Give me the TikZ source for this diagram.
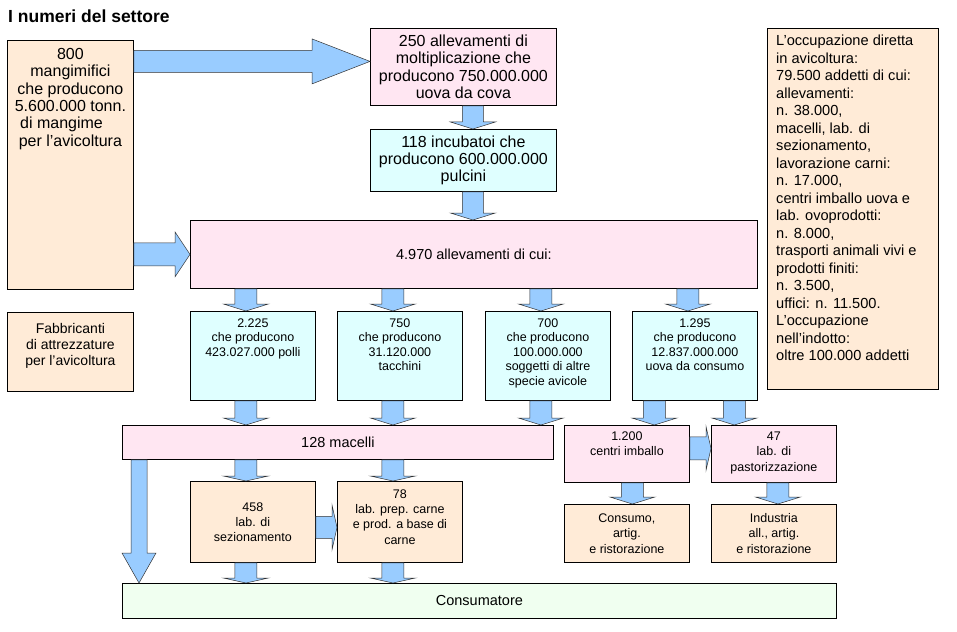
\documentclass[tikz,border=0pt]{standalone}
\usepackage{fontspec}
\setmainfont{Liberation Sans}
\usetikzlibrary{calc}
\definecolor{peachc}{HTML}{FFEBD7}
\definecolor{pinkc}{HTML}{FFE6F2}
\definecolor{cyanc}{HTML}{DFFFFF}
\definecolor{greenc}{HTML}{F0FFF0}
\definecolor{arrowc}{HTML}{99CCFF}
\newcommand\fsz[2]{\fontsize{#1pt}{#2pt}\selectfont}
% vertical block arrow from #1 down to #2
\newcommand\vblk[5]{\draw[blk] let \p1=(#1), \p2=(#2) in
 (\x1-#3,\y1) -- (\x1+#3,\y1) -- (\x1+#3,\y2+#5) -- (\x1+#4,\y2+#5) -- (\x1,\y2)
 -- (\x1-#4,\y2+#5) -- (\x1-#3,\y2+#5) -- cycle;}
% horizontal block arrow from #1 right to #2
\newcommand\hblk[5]{\draw[blk] let \p1=(#1), \p2=(#2) in
 (\x1,\y1+#3) -- (\x2-#5,\y1+#3) -- (\x2-#5,\y1+#4) -- (\x2,\y1) -- (\x2-#5,\y1-#4)
 -- (\x2-#5,\y1-#3) -- (\x1,\y1-#3) -- cycle;}
\begin{document}
\begin{tikzpicture}[x=1pt,y=-1pt,
  box/.style={draw=black, line width=0.8pt, inner sep=0pt, anchor=north west, align=center},
  sz/.style 2 args={minimum width=#1pt, minimum height=#2pt},
  blk/.style={fill=arrowc, draw=black!80, line width=0.5pt, line join=miter},
  big/.style={font=\fsz{16}{17.4}},
  mid/.style={font=\fsz{14.5}{17}},
  sml/.style={font=\fsz{12.5}{14.5}},
  smm/.style={font=\fsz{12.5}{15.5}},
  toplbl/.style={anchor=north, inner sep=0pt, align=center, yshift=-#1pt}]
\useasboundingbox (0,0) rectangle (957,631);
\fill[white] (0,0) rectangle (957,631);

\node[anchor=base west, inner sep=0pt, font=\bfseries\fsz{17.5}{20}] (title) at (8,22.5) {I numeri del settore};

% left column
\node[box, fill=peachc, sz={126}{249},
  label={[toplbl=8, big]north:{800\\mangimifici\\che producono\\5.600.000 tonn.\\di mangime\hphantom{00}\\per l'avicoltura}}] (mang) at (7,40) {};
\node[box, fill=peachc, sz={126}{79},
  label={[toplbl=11, font=\fsz{14}{16}]north:{Fabbricanti\\di attrezzature\\per l'avicoltura}}] (fabb) at (7,312) {};

% top chain
\node[box, fill=pinkc, sz={186}{77}, big] (p250) at (370,28) {250 allevamenti di\\moltiplicazione che\\producono 750.000.000\\uova da cova};
\node[box, fill=cyanc, sz={186}{62}, big] (i118) at (370,129) {118 incubatoi che\\producono 600.000.000\\pulcini};
\node[box, fill=pinkc, sz={567}{68}, mid] (all) at (190,220) {4.970 allevamenti di cui:};

% row of four
\node[box, fill=cyanc, sz={125}{89},
  label={[toplbl=7.5, sml]north:{2.225\\che producono\\423.027.000 polli}}] (r1) at (190,311) {};
\node[box, fill=cyanc, sz={125}{89},
  label={[toplbl=7.5, sml]north:{750\\che producono\\31.120.000\\tacchini}}] (r2) at (337,311) {};
\node[box, fill=cyanc, sz={125}{89},
  label={[toplbl=7.5, sml]north:{700\\che producono\\100.000.000\\soggetti di altre\\specie avicole}}] (r3) at (485,311) {};
\node[box, fill=cyanc, sz={125}{89},
  label={[toplbl=7.5, sml]north:{1.295\\che producono\\12.837.000.000\\uova da consumo}}] (r4) at (632,311) {};

% right info box
\node[box, fill=peachc, sz={171}{361},
  label={[anchor=north west, inner sep=0pt, align=left, xshift=9pt, yshift=-7pt, font=\fsz{14.6}{17.5}]north west:{L'occupazione diretta\\in avicoltura:\\79.500 addetti di cui:\\allevamenti:\\n. 38.000,\\macelli, lab. di\\sezionamento,\\lavorazione carni:\\n. 17.000,\\centri imballo uova e\\lab. ovoprodotti:\\n. 8.000,\\trasporti animali vivi e\\prodotti finiti:\\n. 3.500,\\uffici: n. 11.500.\\L'occupazione\\nell'indotto:\\oltre 100.000 addetti}}] (occ) at (767,28) {};

% slaughter level
\node[box, fill=pinkc, sz={431}{34}, mid] (mac) at (122,425) {128 macelli};
\node[box, fill=pinkc, sz={125}{57},
  label={[toplbl=6.5, smm]north:{1.200\\centri imballo}}] (imb) at (564,425) {};
\node[box, fill=pinkc, sz={125}{57},
  label={[toplbl=6.5, smm]north:{47\\lab. di\\pastorizzazione}}] (past) at (711,425) {};

% processing level
\node[box, fill=peachc, sz={125}{81}, font=\fsz{12.5}{15}] (sez) at (190,481) {458\\lab. di\\sezionamento};
\node[box, fill=peachc, sz={125}{81},
  label={[toplbl=8.5, font=\fsz{12.5}{15.2}]north:{78\\lab. prep. carne\\e prod. a base di\\carne}}] (prep) at (337,481) {};
\node[box, fill=peachc, sz={125}{58}, smm] (cons) at (564,504) {Consumo,\\artig.\\e ristorazione};
\node[box, fill=peachc, sz={125}{58}, smm] (ind) at (711,504) {Industria\\all., artig.\\e ristorazione};

% consumer
\node[box, fill=greenc, sz={714}{35}, mid] (consum) at (122,583) {Consumatore};

% ---------- block arrows ----------
\coordinate (tipA) at ([yshift=5.5pt]p250.west);
\hblk{mang.east |- tipA}{tipA}{11pt}{22.5pt}{58pt}
\hblk{mang.east |- all.west}{all.west}{11.5pt}{22.5pt}{15pt}

\coordinate (a250) at ([xshift=9.5pt]p250.south);
\coordinate (a118) at ([xshift=9.5pt]i118.south);
\vblk{a250}{a250 |- i118.north}{10.5pt}{22.5pt}{7pt}
\vblk{a118}{a118 |- all.north}{10.5pt}{22.5pt}{7pt}

\foreach \r in {r1,r2,r3,r4}{
  \coordinate (t\r) at ([xshift=-7pt]\r.north);
  \coordinate (b\r) at ([xshift=-7pt]\r.south);
  \vblk{t\r |- all.south}{t\r}{11pt}{22.5pt}{7pt}
}
\foreach \r in {r1,r2,r3}{
  \vblk{b\r}{b\r |- mac.north}{11pt}{22.5pt}{7pt}
}
\coordinate (timb) at ([xshift=27.5pt]imb.north);
\coordinate (tpast) at ([xshift=-39.5pt]past.north);
\vblk{timb |- r4.south}{timb}{11pt}{22.5pt}{7pt}
\vblk{tpast |- r4.south}{tpast}{11pt}{22.5pt}{7pt}

\coordinate (tsez) at ([xshift=-7pt]sez.north);
\coordinate (tprep) at ([xshift=-7pt]prep.north);
\coordinate (bsez) at ([xshift=-7pt]sez.south);
\coordinate (bprep) at ([xshift=-7pt]prep.south);
\vblk{tsez |- mac.south}{tsez}{11pt}{22.5pt}{5pt}
\vblk{tprep |- mac.south}{tprep}{11pt}{22.5pt}{5pt}
\vblk{bsez}{bsez |- consum.north}{11pt}{22.5pt}{5pt}
\vblk{bprep}{bprep |- consum.north}{11pt}{22.5pt}{5pt}
\coordinate (bimb) at ([xshift=5.5pt]imb.south);
\vblk{bimb}{bimb |- cons.north}{11pt}{22.5pt}{7pt}
\coordinate (bpast) at ([xshift=4pt]past.south);
\vblk{bpast}{bpast |- ind.north}{11pt}{22.5pt}{7pt}

\coordinate (macL) at ([xshift=17pt]mac.south west);
\vblk{macL}{macL |- consum.north}{8pt}{17pt}{30pt}

\coordinate (esez) at ([yshift=-5.5pt]sez.east);
\coordinate (eimb) at ([yshift=5.5pt]imb.east);
\hblk{esez}{esez -| prep.west}{11pt}{22.5pt}{5pt}
\hblk{eimb}{eimb -| past.west}{11.5pt}{22pt}{5pt}
\end{tikzpicture}
\end{document}
